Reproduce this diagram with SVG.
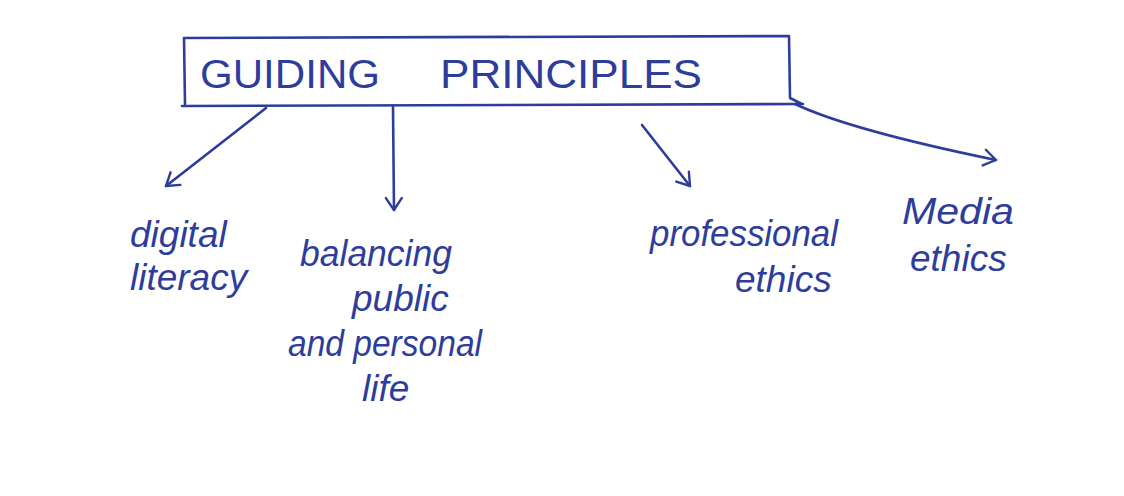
<svg xmlns="http://www.w3.org/2000/svg" width="1124" height="496" viewBox="0 0 1124 496">
<style>
.ink{fill:none;stroke:#2e3d9c;stroke-width:2.6;stroke-linecap:round;stroke-linejoin:round}
.t{font-family:"Liberation Sans","DejaVu Sans",sans-serif;font-style:italic;fill:#2e3d9c;font-size:37px}
.h{font-family:"Liberation Sans","DejaVu Sans",sans-serif;fill:#2e3d9c;font-size:40px}
</style>
<defs>
<marker id="ah" viewBox="0 0 20 20" refX="14" refY="10" markerWidth="20" markerHeight="20" markerUnits="userSpaceOnUse" orient="auto">
<path d="M2,2 L14,10 L2,18" fill="none" stroke="#2e3d9c" stroke-width="2.4" stroke-linecap="round" stroke-linejoin="round"/>
</marker>
</defs>
<rect width="1124" height="496" fill="#ffffff"/>
<g id="guiding-principles">
<path class="ink" d="M184,38 L185,104 M182,106 L803,104 M789,36 L790,98 L802,104 M184,38 L789,36"/>
<text class="h" x="200" y="88" textLength="180" lengthAdjust="spacingAndGlyphs">GUIDING</text>
<text class="h" x="440" y="88" textLength="262" lengthAdjust="spacingAndGlyphs">PRINCIPLES</text>
</g>
<g id="connectors">
<path class="ink" d="M266,108 L166,186" marker-end="url(#ah)"/>
<path class="ink" d="M393,107 L394,210" marker-end="url(#ah)"/>
<path class="ink" d="M642,125 L690,186" marker-end="url(#ah)"/>
<path class="ink" d="M795,104 Q850,130 996,160" marker-end="url(#ah)"/>
</g>
<g id="digital-literacy">
<text class="t" x="130" y="247">digital</text>
<text class="t" x="130" y="290">literacy</text>
</g>
<g id="balancing">
<text class="t" x="300" y="266" textLength="152" lengthAdjust="spacingAndGlyphs">balancing</text>
<text class="t" x="352" y="311">public</text>
<text class="t" x="288" y="356" textLength="194" lengthAdjust="spacingAndGlyphs">and personal</text>
<text class="t" x="362" y="401">life</text>
</g>
<g id="professional-ethics">
<text class="t" x="650" y="246" textLength="188" lengthAdjust="spacingAndGlyphs">professional</text>
<text class="t" x="735" y="292">ethics</text>
</g>
<g id="media-ethics">
<text class="t" x="902" y="224" textLength="112" lengthAdjust="spacingAndGlyphs">Media</text>
<text class="t" x="910" y="271">ethics</text>
</g>
</svg>
